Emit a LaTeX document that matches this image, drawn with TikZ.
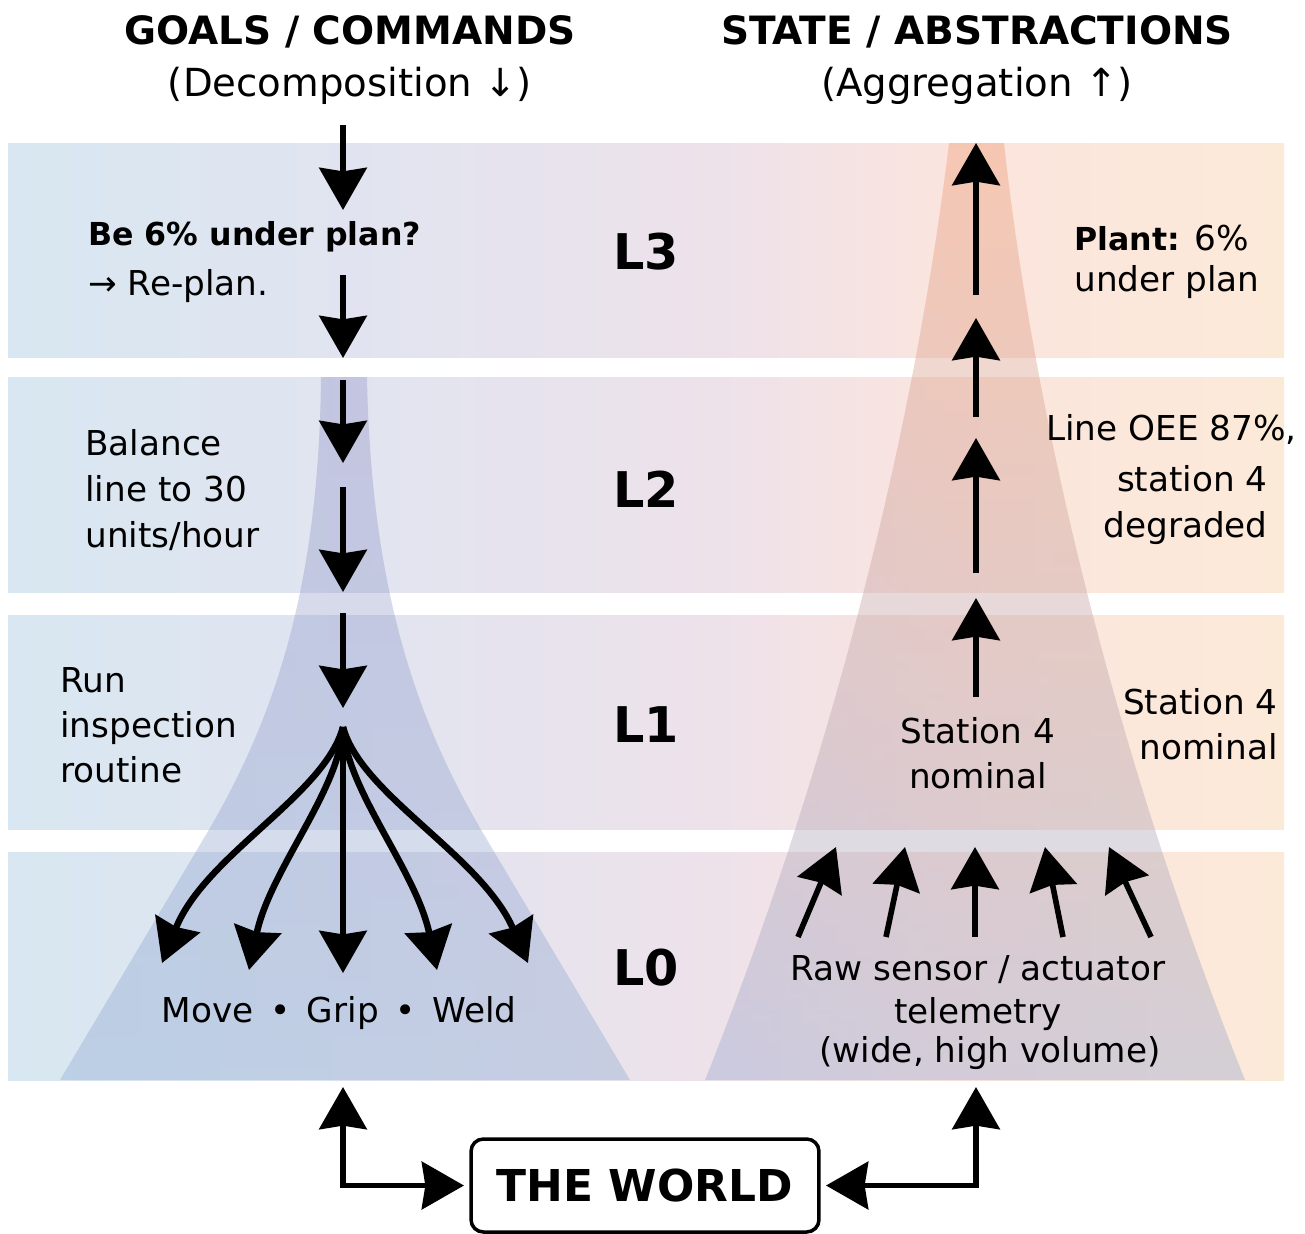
\documentclass[tikz,border=0pt]{standalone}
\usepackage{fontspec}
\setmainfont{DejaVu Sans}
\usetikzlibrary{arrows.meta}

% band colours, left (blue) through lavender and pink to peach
\definecolor{bandA}{HTML}{D8E7F1}
\definecolor{bandB}{HTML}{E2E4F0}
\definecolor{bandC}{HTML}{EEE2EA}
\definecolor{bandD}{HTML}{FBE4DE}
\definecolor{bandE}{HTML}{FCEAD9}
% funnel colours
\definecolor{cmdTop}{HTML}{8F8DC4}
\definecolor{cmdBot}{HTML}{86A6CF}
\definecolor{aggTop}{HTML}{EE9C74}
\definecolor{aggBot}{HTML}{98A8D0}

\pgfdeclarehorizontalshading{levelband}{100bp}{%
  color(0bp)=(bandA); color(25bp)=(bandA); color(40bp)=(bandB);
  color(53bp)=(bandC); color(62bp)=(bandD); color(75bp)=(bandE);
  color(100bp)=(bandE)}

\tikzset{
  hdr/.style={inner sep=0pt, font=\fontsize{22.2}{26}\selectfont\bfseries},
  sub/.style={inner sep=0pt, font=\fontsize{22}{26}\selectfont},
  body/.style={inner sep=0pt, font=\fontsize{19.5}{23}\selectfont},
  bodyb/.style={inner sep=0pt, font=\fontsize{18}{22}\selectfont\bfseries},
  lvl/.style={inner sep=0pt, font=\fontsize{28}{32}\selectfont\bfseries},
  worldbox/.style={draw, line width=2pt, rounded corners=7pt, fill=white,
    minimum width=6.96cm, minimum height=1.86cm, inner sep=0pt,
    font=\fontsize{25}{30}\selectfont\bfseries},
  bighead/.tip={Stealth[length=24pt, width=27pt, inset=2pt]},
  flow/.style={line width=3.2pt, -bighead},
  fanthick/.style={line width=3.7pt, -bighead},
  fanmid/.style={line width=3pt, -bighead},
  worldlink/.style={line width=3.2pt, bighead-bighead, shorten >=3pt},
}

\begin{document}
\begin{tikzpicture}[x=0.02cm, y=-0.02cm]
\useasboundingbox (0,0) rectangle (1305,1234);
\fill[white] (0,0) rectangle (1305,1234);

% level bands
\shade[shading=levelband] (8,143) rectangle (1284,357);
\shade[shading=levelband] (8,377) rectangle (1284,592);
\shade[shading=levelband] (8,615) rectangle (1284,829);
\shade[shading=levelband] (8,852) rectangle (1284,1080);

% decomposition funnel (widening downwards)
\shade[top color=cmdTop, bottom color=cmdBot, fill opacity=0.35]
  (321,377) .. controls (319,590) and (273,721) .. (207,833) -- (60,1080)
  -- (630,1080) -- (483,833) .. controls (417,721) and (371,590) .. (367,377) -- cycle;

% aggregation funnel (narrowing upwards)
\shade[top color=aggTop, bottom color=aggBot, fill opacity=0.4]
  (949,143) .. controls (913,443) and (825,780) .. (705,1080)
  -- (1245,1080) .. controls (1125,780) and (1037,443) .. (1004,143) -- cycle;

% column headers
\node[hdr, anchor=base] (goals) at (350,44) {GOALS / COMMANDS};
\node[sub, anchor=base] (decomp) at (350,96) {(Decomposition ↓)};
\node[hdr, anchor=base] (state) at (977,44) {STATE / ABSTRACTIONS};
\node[sub, anchor=base] (aggr) at (977,96) {(Aggregation ↑)};

% level labels
\node[lvl, anchor=base] (l3) at (646,269) {L3};
\node[lvl, anchor=base] (l2) at (646,507) {L2};
\node[lvl, anchor=base] (l1) at (646,742) {L1};
\node[lvl, anchor=base] (l0) at (646,985) {L0};

% commands, left column
\node[bodyb, anchor=base west] (cmd3a) at (88,245) {Be 6\% under plan?};
\node[body, anchor=base west] (cmd3b) at (88,295) {→ Re-plan.};
\node[body, anchor=base west] (cmd2a) at (85,455) {Balance};
\node[body, anchor=base west] (cmd2b) at (85,501) {line to 30};
\node[body, anchor=base west] (cmd2c) at (85,547) {units/hour};
\node[body, anchor=base west] (cmd1a) at (60,692) {Run};
\node[body, anchor=base west] (cmd1b) at (60,737) {inspection};
\node[body, anchor=base west] (cmd1c) at (60,782) {routine};
\node[body, anchor=base] (cmd0) at (339,1022) {Move \,•\, Grip \,•\, Weld};

% state, right column
\node[body, anchor=base west] (st3a) at (1074,250) {{\fontsize{18}{22}\selectfont\bfseries Plant:} 6\%};
\node[body, anchor=base west] (st3b) at (1074,291) {under plan};
\node[body, anchor=base west] (st2a) at (1046,440) {Line OEE 87\%,};
\node[body, anchor=base east] (st2b) at (1268,491) {station 4};
\node[body, anchor=base east] (st2c) at (1268,537) {degraded};
\node[body, anchor=base] (st1a) at (978,743) {Station 4};
\node[body, anchor=base] (st1b) at (978,788) {nominal};
\node[body, anchor=base east] (st1c) at (1278,714) {Station 4};
\node[body, anchor=base east] (st1d) at (1278,759) {nominal};
\node[body, anchor=base] (st0a) at (978,980) {Raw sensor / actuator};
\node[body, anchor=base] (st0b) at (978,1023) {telemetry};
\node[body, anchor=base] (st0c) at (990,1062) {(wide, high volume)};

% the world
\node[worldbox] (world) at (645,1185.5) {THE WORLD};

% downward command arrows
\coordinate (d1s) at (343,125);  \coordinate (d1e) at (343,210);
\coordinate (d2s) at (343,275);  \coordinate (d2e) at (343,358);
\coordinate (d3s) at (343,380);  \coordinate (d3e) at (343,463);
\coordinate (d4s) at (343,487);  \coordinate (d4e) at (343,592);
\coordinate (d5s) at (343,613);  \coordinate (d5e) at (343,708);
\draw[flow] (d1s) -- (d1e);
\draw[flow] (d2s) -- (d2e);
\draw[flow] (d3s) -- (d3e);
\draw[flow] (d4s) -- (d4e);
\draw[flow] (d5s) -- (d5e);

% fan-out into primitive actions
\coordinate (fan) at (343,727);
\coordinate (m1) at (162,963);
\coordinate (m2) at (249,970);
\coordinate (m3) at (343,973);
\coordinate (m4) at (437,970);
\coordinate (m5) at (528,963);
\draw[fanthick] (fan) .. controls (325,795) and (205,855) .. (m1);
\draw[fanthick] (fan) .. controls (340,790) and (270,870) .. (m2);
\draw[fanmid] (fan) -- (m3);
\draw[fanthick] (fan) .. controls (346,790) and (416,870) .. (m4);
\draw[fanthick] (fan) .. controls (361,795) and (481,855) .. (m5);

% upward state arrows
\coordinate (u1s) at (976,295);  \coordinate (u1e) at (976,143);
\coordinate (u2s) at (976,417);  \coordinate (u2e) at (976,318);
\coordinate (u3s) at (976,573);  \coordinate (u3e) at (976,438);
\coordinate (u4s) at (976,697);  \coordinate (u4e) at (976,598);
\draw[flow] (u1s) -- (u1e);
\draw[flow] (u2s) -- (u2e);
\draw[flow] (u3s) -- (u3e);
\draw[flow] (u4s) -- (u4e);

% raw signals converging upwards
\coordinate (r1s) at (798,937);  \coordinate (r1e) at (836,847);
\coordinate (r2s) at (886,937);  \coordinate (r2e) at (905,847);
\coordinate (r3s) at (975,937);  \coordinate (r3e) at (975,847);
\coordinate (r4s) at (1063,937); \coordinate (r4e) at (1045,847);
\coordinate (r5s) at (1151,937); \coordinate (r5e) at (1109,847);
\draw[flow] (r1s) -- (r1e);
\draw[flow] (r2s) -- (r2e);
\draw[flow] (r3s) -- (r3e);
\draw[flow] (r4s) -- (r4e);
\draw[flow] (r5s) -- (r5e);

% links between the stack and the world
\coordinate (wl) at (343,1087);
\coordinate (wr) at (976,1087);
\draw[worldlink] (wl) |- (world.west);
\draw[worldlink] (wr) |- (world.east);
\end{tikzpicture}
\end{document}
